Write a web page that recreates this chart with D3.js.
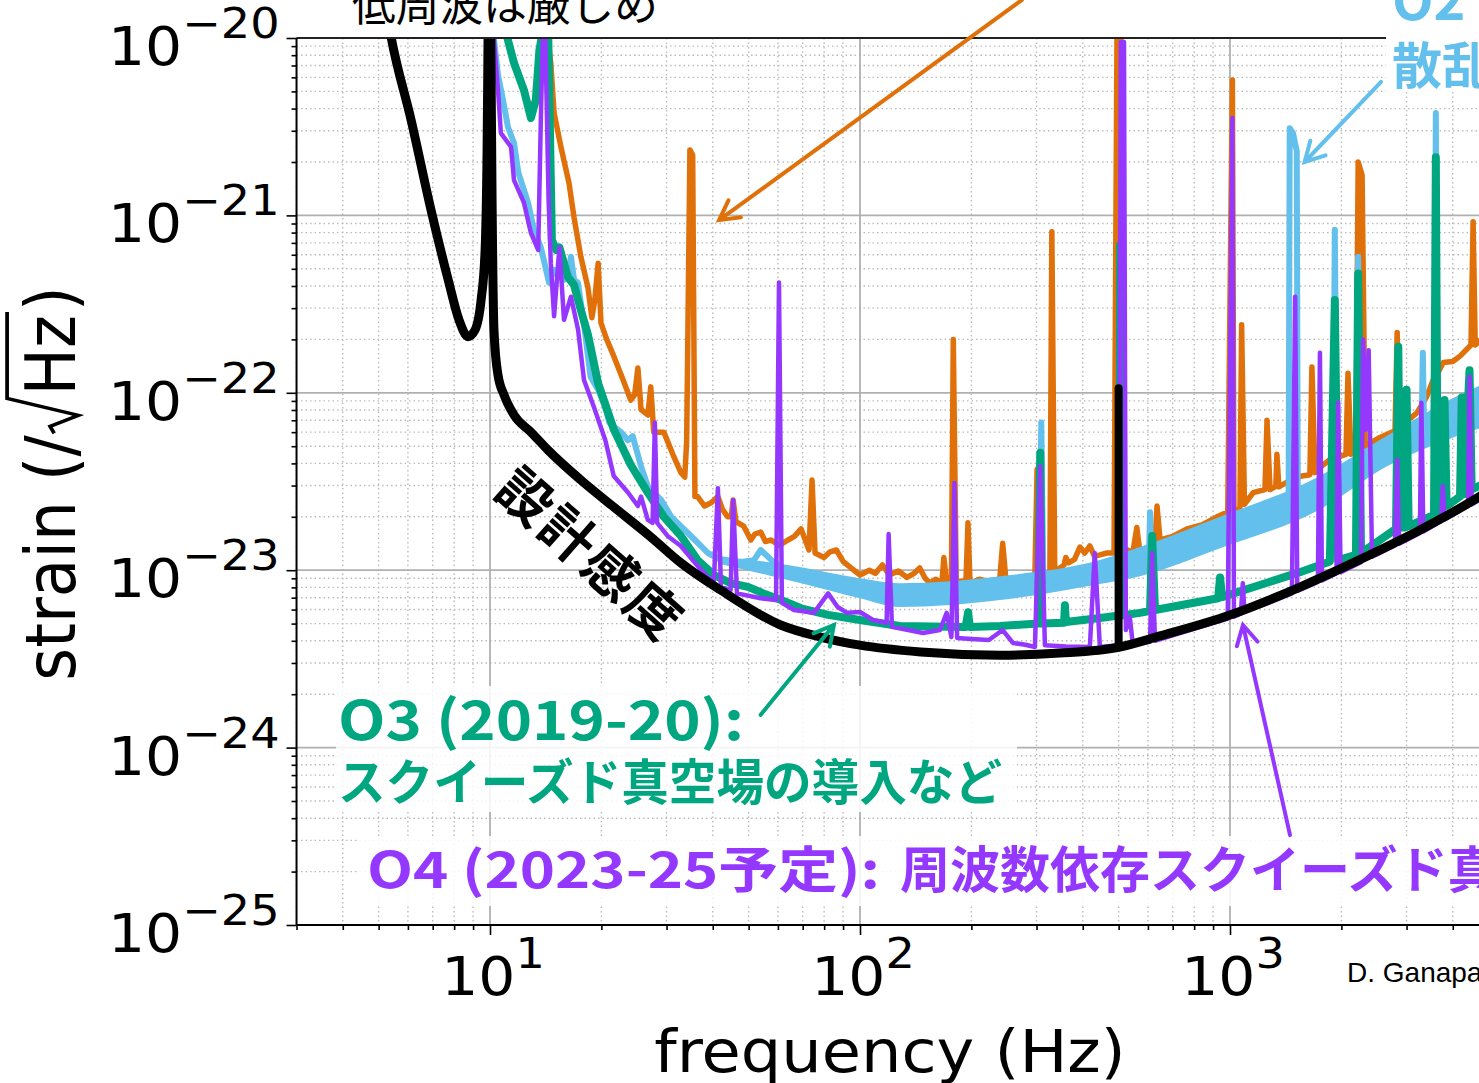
<!DOCTYPE html>
<html><head><meta charset="utf-8">
<script src="https://cdn.jsdelivr.net/npm/d3@7"></script>
<style>
html,body{margin:0;padding:0;background:#fff;overflow:hidden;}
svg{display:block;}
</style></head>
<body>
<svg id="chart" width="1479" height="1083"></svg>
<script>
// Strain noise spectra, each point is [frequency (Hz), strain (/√Hz)]
const designSensitivity = [[5.2,1.6e-20],[5.41,1.0e-20],[6.12,3.45e-21],[6.93,1.07e-21],[7.71,4.33e-22],[8.25,2.57e-22],[8.72,2.07e-22],[9.11,2.26e-22],[9.46,3.33e-22],[9.70,6.38e-22],[9.82,2.34e-21],[9.88,1.0e-20],[9.95,5e-20],[10.05,1.0e-20],[10.13,1.22e-21],[10.25,2.26e-22],[10.51,1.26e-22],[10.91,9.75e-23],[11.61,7.5e-23],[12.9,6.01e-23],[14.34,4.76e-23],[17.61,3.22e-23],[21.6,2.27e-23],[27.2,1.54e-23],[32.8,1.10e-23],[42.0,7.73e-24],[61.0,4.91e-24],[78.2,4.20e-24],[100,3.78e-24],[146,3.46e-24],[239,3.32e-24],[347,3.41e-24],[500,3.68e-24],[647,4.26e-24],[1000,5.59e-24],[1545,8.04e-24],[2150,1.10e-23],[3262,1.685e-23],[4710,2.59e-23],[5200,2.95e-23]];
// violin-mode line of the design curve
const designViolinMode = [[500,3.68e-24],[500,1.06e-22]];

const o1Spectrum = [[14.1,1.3e-20],[14.6,7.2e-21],[14.9,3.78e-21],[15.55,2.43e-21],[16.35,1.52e-21],[16.87,9.75e-22],[17.6,5.85e-22],[18.4,3.9e-22],[18.85,2.65e-22],[19.2,3.33e-22],[19.6,5.38e-22],[19.95,2.48e-22],[20.6,2.04e-22],[21.6,1.61e-22],[22.9,1.18e-22],[24.0,9.1e-23],[24.6,9.75e-23],[25.1,1.38e-22],[25.6,8.05e-23],[26.7,7.5e-23],[27.2,1.08e-22],[27.7,6.0e-23],[29.5,6.0e-23],[31.2,4.5e-23],[32.8,3.55e-23],[33.6,3.35e-23],[34.0,5.3e-23],[34.7,2.34e-21],[35.3,2.19e-21],[35.8,2.6e-23],[36.4,2.6e-23],[38.0,2.3e-23],[39.6,2.4e-23],[41.3,2.6e-23],[42.5,2.2e-23],[43.9,2.0e-23],[44.9,2.0e-23],[45.4,2.49e-23],[46.2,1.88e-23],[48.5,1.77e-23],[50.7,1.48e-23],[52.0,1.6e-23],[53.9,1.64e-23],[55.5,1.45e-23],[57.5,1.48e-23],[60.5,1.38e-23],[63.9,1.48e-23],[66.5,1.55e-23],[69.3,1.71e-23],[72.8,1.30e-23],[74.2,3.22e-23],[75.6,1.25e-23],[79.9,1.18e-23],[83.0,1.27e-23],[86.3,1.30e-23],[90.0,1.12e-23],[94.0,1.04e-23],[100,9.4e-24],[106,1.0e-23],[110,9.6e-24],[115,1.07e-23],[120,9.4e-24],[127,9.9e-24],[134,9.1e-24],[140,9.6e-24],[145,1.03e-23],[150,9.0e-24],[154.6,8.45e-24],[160,8.9e-24],[166.5,8.45e-24],[168.5,1.18e-23],[171.5,8.45e-24],[176.6,8.45e-24],[178.7,2.0e-22],[182,8.45e-24],[188,8.7e-24],[193.3,8.45e-24],[195.8,1.85e-23],[198.3,8.45e-24],[210,8.9e-24],[225,8.6e-24],[238.5,8.8e-24],[243,1.42e-23],[248,8.8e-24],[262,9.0e-24],[280,9.2e-24],[297,9.4e-24],[301,3.7e-23],[307,9.75e-24],[318,9.5e-24],[326,9.75e-24],[330,8.1e-22],[336,1.0e-23],[345,1.02e-23],[356,1.07e-23],[360,1.18e-23],[366,1.10e-23],[380,1.15e-23],[393,1.35e-23],[405,1.25e-23],[418,1.37e-23],[430,1.2e-23],[445,1.22e-23],[465,1.25e-23],[486,1.25e-23],[495,1.1e-20],[507,1.1e-20],[517,1.25e-23],[530,1.3e-23],[546,1.25e-23],[560,1.74e-23],[571,1.25e-23],[600,1.35e-23],[627,1.48e-23],[635,2.3e-23],[647,1.48e-23],[700,1.55e-23],[765,1.71e-23],[840,1.8e-23],[922,2.0e-23],[986,2.13e-23],[1015,5.8e-21],[1025,2.13e-23],[1064,2.25e-23],[1075,2.42e-22],[1094,2.35e-23],[1155,2.74e-23],[1243,2.85e-23],[1259,7.0e-23],[1283,2.85e-23],[1330,2.97e-23],[1339,4.5e-23],[1355,2.95e-23],[1450,3.2e-23],[1565,3.4e-23],[1644,3.45e-23],[1665,1.4e-22],[1697,3.55e-23],[1780,3.9e-23],[1862,4.2e-23],[2058,4.5e-23],[2084,1.29e-22],[2123,4.5e-23],[2190,4.7e-23],[2220,2.0e-21],[2275,1.69e-21],[2320,5.0e-23],[2430,5.3e-23],[2543,5.6e-23],[2792,6.1e-23],[2830,2.19e-22],[2866,6.3e-23],[3000,6.9e-23],[3200,7.7e-23],[3400,9.5e-23],[3540,1.18e-22],[3650,1.3e-22],[3770,1.48e-22],[4000,1.5e-22],[4185,1.61e-22],[4480,1.86e-22],[4540,9.2e-22],[4600,1.86e-22],[4890,2.1e-22]];

const o2Spectrum = [[10.19,1.1e-20],[10.51,6.19e-21],[10.84,4.48e-21],[11.18,3.15e-21],[11.61,2.56e-21],[11.93,1.74e-21],[12.67,1.18e-21],[13.14,8.3e-22],[13.72,6.6e-22],[14.44,4.18e-22],[14.9,4.93e-22],[15.85,4.33e-22],[16.25,4.6e-22],[16.55,5.85e-22],[16.87,4.33e-22],[17.28,4.18e-22],[17.95,2.42e-22],[18.7,1.23e-22],[19.6,1.04e-22],[20.5,8.3e-23],[21.0,6.8e-23],[21.6,6.45e-23],[22.6,6.0e-23],[23.6,5.4e-23],[24.3,5.7e-23],[25.6,3.84e-23],[26.7,2.97e-23],[27.2,2.85e-23],[29.0,2.49e-23],[30.9,2.0e-23],[32.8,1.77e-23],[35.8,1.48e-23],[38.8,1.25e-23],[42.1,1.14e-23],[45.7,1.10e-23],[51.7,1.14e-23],[53.9,1.30e-23],[58.7,1.10e-23],[66.3,9.6e-24],[75.1,9.1e-24],[84.9,8.8e-24],[100,7.95e-24],[128,7.25e-24],[178,7.5e-24],[239,7.95e-24],[305,8.3e-24],[309,6.8e-23],[313,8.3e-24],[326,8.5e-24],[445,9.75e-24],[571,1.12e-23],[604,1.2e-23],[608,2.12e-23],[612,1.2e-23],[940,1.64e-23],[1440,2.35e-23],[1450,3.1e-21],[1480,2.9e-21],[1515,2.3e-21],[1525,2.45e-23],[1750,2.74e-23],[1900,3.0e-23],[1920,8.3e-22],[1945,3.0e-23],[2190,3.4e-23],[2220,5.85e-22],[2250,3.4e-23],[2650,4.65e-23],[3290,5.1e-23],[3320,1.68e-22],[3350,5.1e-23],[3570,5.6e-23],[3600,3.78e-21],[3630,5.6e-23],[4010,7.2e-23],[4890,8.5e-23]];

// O2 broadband noise spread: [frequency, upper strain, lower strain]
const o2NoiseBand = [[42.1,1.20e-23,1.08e-23],[69.3,1.04e-23,8.45e-24],[100,9.0e-24,6.95e-24],[128,8.45e-24,6.2e-24],[239,9.25e-24,6.79e-24],[445,1.14e-23,8.35e-24],[571,1.35e-23,9.25e-24],[940,2.0e-23,1.33e-23],[1750,3.4e-23,2.2e-23],[2650,5.7e-23,3.84e-23],[4010,9.35e-23,5.6e-23],[4890,1.13e-22,6.45e-23]];

const o3Spectrum = [[11.04,1.1e-20],[11.18,9.74e-21],[11.61,7.23e-21],[12.35,5.09e-21],[12.9,3.54e-21],[13.3,4.48e-21],[13.6,8.56e-21],[13.9,1.1e-20],[14.36,1.1e-20],[14.7,7.27e-22],[15.1,6.38e-22],[15.4,6.6e-22],[16.25,4.48e-22],[16.87,4.05e-22],[17.6,2.93e-22],[18.4,2.12e-22],[19.6,1.13e-22],[21.6,6.22e-23],[24.0,3.93e-23],[26.7,2.74e-23],[29.5,2.0e-23],[32.8,1.56e-23],[36.4,1.14e-23],[40.3,9.4e-24],[44.7,8.45e-24],[49.8,8.05e-24],[54.8,7.4e-24],[61.2,6.79e-24],[69.3,6.1e-24],[82.0,5.6e-24],[100,5.24e-24],[128,4.85e-24],[193,4.79e-24],[196,5.8e-24],[198,4.79e-24],[239,4.85e-24],[303,5.0e-24],[307,4.6e-23],[310,5.0e-24],[356,5.05e-24],[358,6.35e-24],[360,5.1e-24],[445,5.38e-24],[502,5.55e-24],[505,6.8e-22],[508,5.55e-24],[571,5.75e-24],[608,5.9e-24],[616,1.56e-23],[627,5.97e-24],[929,6.95e-24],[940,9.1e-24],[952,7.05e-24],[1545,9.75e-24],[1862,1.12e-23],[1920,3.33e-22],[1960,1.14e-23],[2190,1.22e-23],[2220,4.7e-22],[2260,1.25e-23],[2810,1.71e-23],[2850,1.82e-22],[2880,1.74e-23],[2970,1.74e-23],[3000,1.04e-22],[3040,1.77e-23],[3560,2.05e-23],[3600,2.13e-21],[3640,2.05e-23],[3760,2.3e-23],[3800,9.1e-23],[3850,2.3e-23],[4185,2.6e-23],[4230,9.4e-23],[4280,2.68e-23],[4440,1.34e-22],[4500,2.85e-23],[4890,3.1e-23]];

const o4Spectrum = [[10.13,1.1e-20],[10.25,9.74e-21],[10.51,5.09e-21],[10.7,2.91e-21],[11.4,2.43e-21],[11.61,1.58e-21],[12.35,1.18e-21],[12.9,7.96e-22],[13.5,6.38e-22],[13.72,3.45e-21],[13.9,1.1e-20],[14.1,1.1e-20],[14.4,1.22e-21],[14.6,5.38e-22],[14.9,2.70e-22],[15.4,6.6e-22],[15.85,2.58e-22],[16.55,3.48e-22],[17.3,2.27e-22],[17.95,1.18e-22],[19.1,8.3e-23],[20.5,5.4e-23],[21.6,3.4e-23],[23.6,2.74e-23],[25.1,2.3e-23],[25.6,2.6e-23],[26.7,1.92e-23],[27.5,1.85e-23],[27.9,6.8e-23],[28.3,1.85e-23],[30.2,1.56e-23],[32.8,1.37e-23],[35.8,1.10e-23],[38.8,9.1e-24],[40.3,8.8e-24],[41.3,2.9e-23],[42.1,8.05e-24],[44.7,7.73e-24],[45.4,2.49e-23],[46.5,7.4e-24],[53.9,6.95e-24],[59.3,6.79e-24],[60.4,4.18e-22],[61.5,6.55e-24],[66.3,5.97e-24],[75.1,5.75e-24],[82.0,7.4e-24],[87.0,6.2e-24],[92.3,5.75e-24],[100,5.82e-24],[108.4,5.24e-24],[118,5.05e-24],[119.5,1.6e-23],[122,4.79e-24],[135,4.6e-24],[148,4.43e-24],[164.5,4.6e-24],[171.5,5.75e-24],[176.6,4.2e-24],[180,3.1e-23],[183,4.15e-24],[200,4.1e-24],[223,4.04e-24],[243,4.6e-24],[259,3.89e-24],[280,3.8e-24],[297,3.69e-24],[307,3.84e-23],[316,3.78e-24],[360,3.72e-24],[418,3.69e-24],[431,1.25e-23],[445,3.69e-24],[501,3.78e-24],[507,9.49e-21],[517,9.49e-21],[523,4.6e-24],[536,5.45e-24],[546,3.85e-24],[608,3.95e-24],[616,1.25e-23],[627,4.0e-24],[790,4.64e-24],[986,5.33e-24],[1015,3.54e-21],[1025,5.47e-24],[1070,5.7e-24],[1083,8.45e-24],[1094,5.85e-24],[1250,6.46e-24],[1470,7.4e-24],[1500,3.48e-22],[1520,7.65e-24],[1728,8.6e-24],[1750,1.68e-22],[1772,8.75e-24],[1940,9.6e-24],[1960,8.8e-23],[1990,9.75e-24],[2260,1.11e-23],[2290,2.0e-22],[2330,6.2e-23],[2370,1.74e-22],[2420,1.19e-23],[2790,1.38e-23],[2830,4.2e-23],[2866,1.41e-23],[3260,1.62e-23],[3290,8.8e-23],[3330,1.65e-23],[3720,1.89e-23],[3760,2.97e-23],[3800,1.93e-23],[4400,2.3e-23],[4440,1.23e-22],[4500,2.35e-23],[4890,2.6e-23]];

// Axis ticks
const xDecades = [1, 2, 3];               // 10^1 .. 10^3 Hz
const yDecades = [-20, -21, -22, -23, -24, -25];
const xLimits = [3, 5000];
const yLimits = [1e-20, 1e-25];

// Labels
const yAxisLabel = ['strain (/', 'Hz', ')'];
const xAxisLabel = 'frequency (Hz)';
const topNote = '低周波は厳しめ';
const designLabel = '設計感度';
const o2Label = ['O2 (2016-17):', '散乱光の低減'];
const o3Label = ['O3 (2019-20):', 'スクイーズド真空場の導入など'];
const o4Label = ['O4 (2023-25予定):', '周波数依存スクイーズド真空場の導入'];
const creditLabel = 'D. Ganapathy';

// Arrows: tail and tip in [frequency, strain]
const arrows = [
  {key: 'o1', from: [274, 1.64e-20], to: [41.6, 9.4e-22]},
  {key: 'o2', from: [2560, 5.65e-21], to: [1591, 2.0e-21]},
  {key: 'o3', from: [53.9, 1.53e-24], to: [85.0, 4.91e-24]},
  {key: 'o4', from: [1453, 3.21e-25], to: [1084, 4.91e-24]}
];

const colors = {o1: '#E0700A', o2: '#63BFEC', o3: '#00A67F', o4: '#9438FF', design: '#000000'};

const svg = d3.select('#chart');
const x = d3.scaleLog().domain([10, 1000]).range([490, 1230]);
const y = d3.scaleLog().domain([1e-20, 1e-25]).range([38, 925]);
const L = x(xLimits[0]), R = x(xLimits[1]), T = y(yLimits[0]), B = y(yLimits[1]);

const mpl = "'DejaVu Sans', sans-serif";
const jp = "'Noto Sans CJK JP', 'Noto Sans', sans-serif";
const SX = 1.1;

// minor / major values
const xMajor = xDecades.map(e => Math.pow(10, e));
const xMinor = [];
for (let e = 0; e <= 3; e++) for (let k = 2; k <= 9; k++) {
  const v = k * Math.pow(10, e);
  if (v >= xLimits[0] && v <= xLimits[1]) xMinor.push(v);
}
const yMajor = yDecades.map(e => Math.pow(10, e));
const yMinor = [];
for (let e = -25; e <= -21; e++) for (let k = 2; k <= 9; k++) yMinor.push(k * Math.pow(10, e));

// grid
const grid = svg.append('g');
grid.selectAll('.vmin').data(xMinor).join('line')
  .attr('x1', d => x(d)).attr('x2', d => x(d)).attr('y1', T).attr('y2', B)
  .attr('stroke', '#bbbbbb').attr('stroke-width', 1.4).attr('stroke-dasharray', '1.5,3');
grid.selectAll('.hmin').data(yMinor).join('line')
  .attr('x1', L).attr('x2', R).attr('y1', d => y(d)).attr('y2', d => y(d))
  .attr('stroke', '#bbbbbb').attr('stroke-width', 1.4).attr('stroke-dasharray', '1.5,3');
grid.selectAll('.vmaj').data(xMajor).join('line')
  .attr('x1', d => x(d)).attr('x2', d => x(d)).attr('y1', T).attr('y2', B)
  .attr('stroke', '#b0b0b0').attr('stroke-width', 1.8);
grid.selectAll('.hmaj').data(yMajor).join('line')
  .attr('x1', L).attr('x2', R).attr('y1', d => y(d)).attr('y2', d => y(d))
  .attr('stroke', '#b0b0b0').attr('stroke-width', 1.8);

// curves
svg.append('clipPath').attr('id', 'plotClip').append('rect')
  .attr('x', L).attr('y', T).attr('width', R - L).attr('height', B - T);
const curves = svg.append('g').attr('clip-path', 'url(#plotClip)');
const line = d3.line().x(d => x(d[0])).y(d => y(d[1]));
const smooth = d3.line().x(d => x(d[0])).y(d => y(d[1])).curve(d3.curveMonotoneX);
const band = d3.area().x(d => x(d[0])).y0(d => y(d[2])).y1(d => y(d[1])).curve(d3.curveMonotoneX);

function drawLine(data, color, width, gen, cap) {
  curves.append('path').attr('d', (gen || line)(data)).attr('fill', 'none')
    .attr('stroke', color).attr('stroke-width', width)
    .attr('stroke-linejoin', 'round').attr('stroke-linecap', cap || 'round');
}
drawLine(o1Spectrum, colors.o1, 5.5);
curves.append('path').attr('d', band(o2NoiseBand)).attr('fill', colors.o2);
drawLine(o2Spectrum, colors.o2, 6);
drawLine(o3Spectrum, colors.o3, 8);
drawLine(o4Spectrum, colors.o4, 4.5);
drawLine(designSensitivity, colors.design, 9, smooth);
drawLine(designViolinMode, colors.design, 8);

// axes ticks
const axes = svg.append('g');
axes.append('g').attr('transform', `translate(${L},0)`)
  .call(d3.axisLeft(y).tickValues(yMajor).tickSize(10).tickFormat(''))
  .call(g => g.select('.domain').remove());
axes.append('g').attr('transform', `translate(${L},0)`)
  .call(d3.axisLeft(y).tickValues(yMinor).tickSize(5).tickFormat(''))
  .call(g => g.select('.domain').remove());
axes.append('g').attr('transform', `translate(0,${B})`)
  .call(d3.axisBottom(x).tickValues(xMajor).tickSize(10).tickFormat(''))
  .call(g => g.select('.domain').remove());
axes.append('g').attr('transform', `translate(0,${B})`)
  .call(d3.axisBottom(x).tickValues(xMinor).tickSize(5).tickFormat(''))
  .call(g => g.select('.domain').remove());
axes.selectAll('.tick line').attr('stroke', '#000').attr('stroke-width', 1.6);

// spines
axes.append('line').attr('x1', L).attr('x2', R).attr('y1', T).attr('y2', T).attr('stroke', '#222').attr('stroke-width', 2);
axes.append('line').attr('x1', L).attr('x2', R).attr('y1', B).attr('y2', B).attr('stroke', '#000').attr('stroke-width', 2);
axes.append('line').attr('x1', L).attr('x2', L).attr('y1', T).attr('y2', B).attr('stroke', '#000').attr('stroke-width', 2);

// tick labels
const labels = svg.append('g');
yDecades.forEach(e => {
  const t = labels.append('text')
    .attr('transform', `translate(${L - 17},${y(Math.pow(10, e)) + 27}) scale(${SX},1)`)
    .attr('font-family', mpl).attr('text-anchor', 'end').attr('fill', '#000');
  t.append('tspan').attr('font-size', 53).text('10');
  t.append('tspan').attr('font-size', 42).attr('dy', -27).text('\u2212' + Math.abs(e));
});
xDecades.forEach(e => {
  const t = labels.append('text')
    .attr('transform', `translate(${x(Math.pow(10, e)) + 3},${B + 70}) scale(${SX},1)`)
    .attr('font-family', mpl).attr('text-anchor', 'middle').attr('fill', '#000');
  t.append('tspan').attr('font-size', 53).text('10');
  t.append('tspan').attr('font-size', 42).attr('dy', -27).text(String(e));
});

// axis titles
labels.append('text')
  .attr('transform', `translate(890,${B + 147}) scale(${SX},1)`)
  .attr('font-family', mpl).attr('font-size', 58).attr('text-anchor', 'middle')
  .text(xAxisLabel);

const yl = labels.append('g').attr('transform', `translate(75,${(T + B) / 2 + 2}) rotate(-90) scale(1,${SX})`);
const ylt = yl.append('text').attr('font-family', mpl).attr('font-size', 63).attr('text-anchor', 'middle');
ylt.append('tspan').text(yAxisLabel[0]);
ylt.append('tspan').attr('dx', 40).text(yAxisLabel[1]);
ylt.append('tspan').attr('dx', 4).text(yAxisLabel[2]);
{
  const node = ylt.node();
  const iSlash = yAxisLabel[0].length - 1;
  const iH = yAxisLabel[0].length;
  const iz = iH + 1;
  const u0 = node.getEndPositionOfChar(iSlash).x;
  const uH = node.getStartPositionOfChar(iH).x;
  const uz = node.getEndPositionOfChar(iz).x;
  const em = 63;
  yl.append('path')
    .attr('d', `M${u0 + 2},${-0.3 * em} L${u0 + 9},${-0.36 * em} L${u0 + 20},${0.05 * em} L${uH - 3},${-0.98 * em} L${uz + 3},${-0.98 * em}`)
    .attr('fill', 'none').attr('stroke', '#000').attr('stroke-width', 3.4).attr('stroke-linejoin', 'miter');
}

// annotation boxes
const notes = svg.append('g');
notes.append('rect').attr('x', 336).attr('y', 686).attr('width', 681).attr('height', 126).attr('fill', '#fff').attr('opacity', 0.85);
notes.append('rect').attr('x', 357).attr('y', 836).attr('width', 1200).attr('height', 70).attr('fill', '#fff').attr('opacity', 0.85);
notes.append('rect').attr('x', 1386).attr('y', 0).attr('width', 200).attr('height', 92).attr('fill', '#fff');

function addText(opts) {
  const t = notes.append('text')
    .attr('transform', `translate(${opts.x},${opts.y})`)
    .attr('font-family', opts.family || jp)
    .attr('font-size', opts.size)
    .attr('font-weight', opts.weight || 700)
    .attr('fill', opts.fill || '#000')
    .attr('text-anchor', opts.anchor || 'start')
    .text(opts.text);
  if (opts.length) t.attr('textLength', opts.length).attr('lengthAdjust', 'spacingAndGlyphs');
  if (opts.spacing) t.attr('letter-spacing', opts.spacing);
  return t;
}

addText({x: 352, y: 21, text: topNote, size: 44, weight: 400, length: 306});
addText({x: 1392, y: 20, text: o2Label[0], size: 54, fill: colors.o2});
addText({x: 1392, y: 84, text: o2Label[1], size: 50, fill: colors.o2});
addText({x: 338, y: 740, text: o3Label[0], size: 54, fill: colors.o3, length: 406});
addText({x: 338, y: 800, text: o3Label[1], size: 49, fill: colors.o3, length: 664});
addText({x: 367, y: 888, text: o4Label[0], size: 50, fill: colors.o4, length: 513});
addText({x: 900, y: 888, text: o4Label[1], size: 50, fill: colors.o4});
addText({x: 0, y: 0, text: designLabel, size: 54, anchor: 'middle', spacing: 3})
  .attr('transform', 'translate(590,555) rotate(41.5) translate(0,19)');
addText({x: 1347, y: 982, text: creditLabel, size: 28, weight: 400, family: "'Liberation Sans', Arial, sans-serif"});

// arrows
const arrowLayer = svg.append('g');
arrows.forEach(a => {
  const x0 = x(a.from[0]), y0 = y(a.from[1]), x1 = x(a.to[0]), y1 = y(a.to[1]);
  const ang = Math.atan2(y0 - y1, x0 - x1);
  const len = 22, spread = 0.5;
  const p = d3.path();
  p.moveTo(x0, y0); p.lineTo(x1, y1);
  p.moveTo(x1 + len * Math.cos(ang + spread), y1 + len * Math.sin(ang + spread));
  p.lineTo(x1, y1);
  p.lineTo(x1 + len * Math.cos(ang - spread), y1 + len * Math.sin(ang - spread));
  arrowLayer.append('path').attr('d', p.toString()).attr('fill', 'none')
    .attr('stroke', colors[a.key]).attr('stroke-width', 4)
    .attr('stroke-linecap', 'round').attr('stroke-linejoin', 'miter');
});
</script>
</body></html>
